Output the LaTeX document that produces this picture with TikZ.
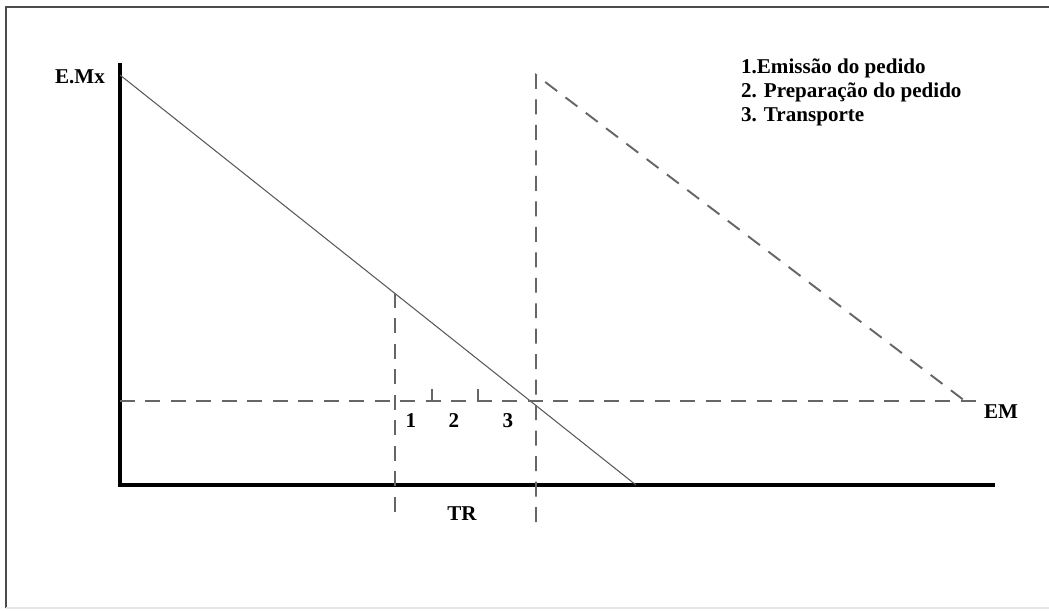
\documentclass[tikz,border=0pt]{standalone}
\usepackage{fontspec}
\setmainfont{Liberation Serif}
\usetikzlibrary{positioning}
\tikzset{
  axis/.style={
    line width=2.2pt,
    black
  },
  stock/.style={
    line width=0.6pt,
    black!65
  },
  guide/.style={
    line width=1.1pt,
    black!60,
    dash pattern=on 8.5pt off 6pt
  },
  tick/.style={
    line width=0.6pt,
    black!60
  },
  lbl/.style={
    font=\fontsize{12}{13.6}\selectfont\bfseries,
    inner sep=1pt
  },
  frame/.style={
    line width=1.2pt,
    black!70
  }
}

\begin{document}
\begin{tikzpicture}[x=0.02cm, y=-0.02cm]
  \useasboundingbox (0,0) rectangle (1049,610);

  % outer frame
  \coordinate (fbl) at (6,608);
  \coordinate (ftl) at (6,7);
  \coordinate (ftr) at (1049,7);
  \coordinate (fbr) at (1049,608);
  \draw[frame] (fbl) -- (ftl) -- (ftr);
  \draw[black!10, line width=0.6pt] (fbl) -- (fbr);

  % axes
  \coordinate (origin) at (120,485);
  \coordinate (ytop) at (120,63);
  \coordinate (xend) at (995,485);
  \draw[axis] (ytop) -- (origin) -- (xend);

  % stock line
  \coordinate (smax) at (120,75);
  \coordinate (szero) at (636,485);
  \draw[stock] (smax) -- (szero);

  % order point and arrival
  \coordinate (order) at (395,293);
  \coordinate (orderlow) at (395,522);
  \coordinate (cross) at (536,401);
  \coordinate (arrtop) at (536,75);
  \coordinate (arrlow) at (536,522);
  \coordinate (emleft) at (120,401);
  \coordinate (emright) at (978,401);
  \coordinate (newend) at (965,401);

  \draw[guide] (emleft) -- (emright);
  \draw[guide] (order) -- (orderlow);
  \draw[guide] (arrlow) -- (arrtop) -- (newend);

  % phase ticks
  \coordinate (t1a) at (432,401);
  \coordinate (t1b) at (432,389);
  \coordinate (t2a) at (478,401);
  \coordinate (t2b) at (478,389);
  \draw[tick] (t1a) -- (t1b);
  \draw[tick] (t2a) -- (t2b);

  % labels
  \node[lbl] (emx) at (80,77) {E.Mx};
  \node[lbl] (em) at (1001,412) {EM};
  \node[lbl] (p1) at (411,421) {1};
  \node[lbl] (p2) at (454,421) {2};
  \node[lbl] (p3) at (508,421) {3};
  \node[lbl] (tr) at (462,514) {TR};
  \node[lbl, anchor=north west, align=left] (legend) at (739,57)
    {1.Emissão do pedido\\2. Preparação do pedido\\3. Transporte};
\end{tikzpicture}
\end{document}
